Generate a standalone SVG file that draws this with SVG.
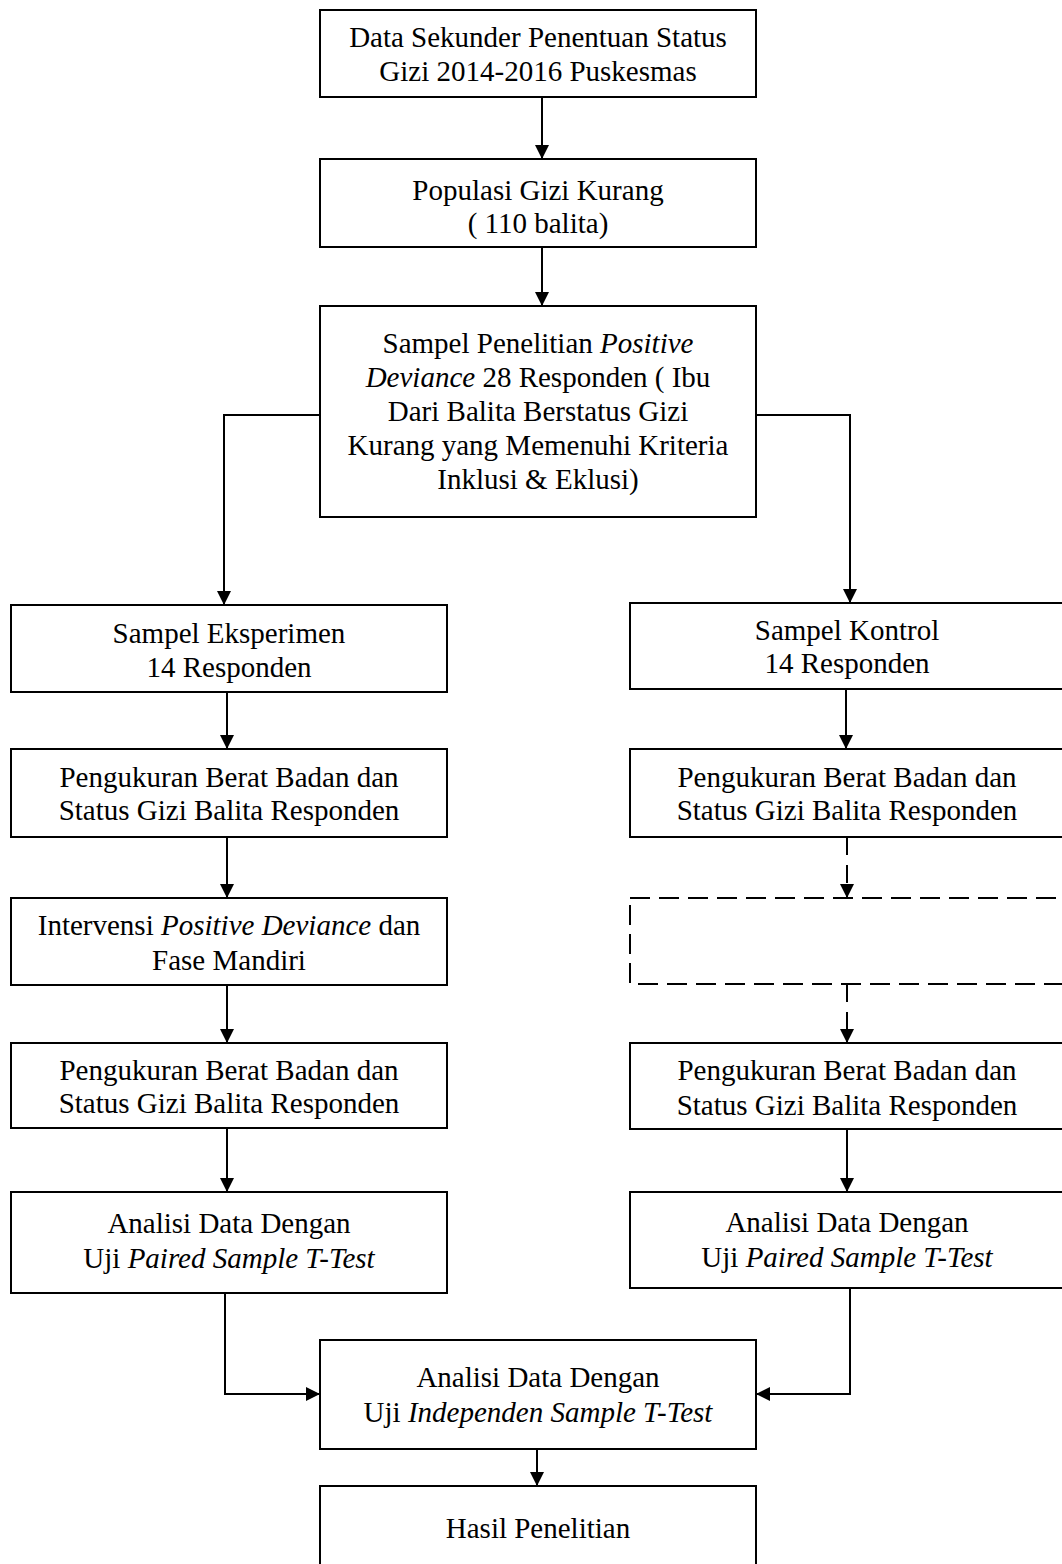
<svg xmlns="http://www.w3.org/2000/svg" width="1062" height="1564" viewBox="0 0 1062 1564">
<style>
.box{fill:#fff;stroke:#000;stroke-width:2}
.dbox{fill:#fff;stroke:#000;stroke-width:2;stroke-dasharray:20 9}
.t{font-family:"Liberation Serif","Times New Roman",serif;font-size:29px;fill:#000;text-anchor:middle}
.i{font-style:italic}
.c{fill:none;stroke:#000;stroke-width:2}
.cd{fill:none;stroke:#000;stroke-width:2;stroke-dasharray:18 10}
</style>
<defs>
<marker id="ah" viewBox="0 0 14 14" refX="14" refY="7" markerWidth="14" markerHeight="14" markerUnits="userSpaceOnUse" orient="auto">
<path d="M0,0 L14,7 L0,14 Z" fill="#000"/>
</marker>
</defs>
<rect width="1062" height="1564" fill="#fff"/>
<g id="connectors">
<path class="c" d="M542,97 V159" marker-end="url(#ah)"/>
<path class="c" d="M542,247 V306" marker-end="url(#ah)"/>
<path class="c" d="M320,415 H224 V605" marker-end="url(#ah)"/>
<path class="c" d="M756,415 H850 V603" marker-end="url(#ah)"/>
<path class="c" d="M227,692 V749" marker-end="url(#ah)"/>
<path class="c" d="M227,837 V898" marker-end="url(#ah)"/>
<path class="c" d="M227,985 V1043" marker-end="url(#ah)"/>
<path class="c" d="M227,1128 V1192" marker-end="url(#ah)"/>
<path class="c" d="M846,689 V749" marker-end="url(#ah)"/>
<path class="cd" d="M847,837 V898" marker-end="url(#ah)"/>
<path class="cd" d="M847,984 V1043" marker-end="url(#ah)"/>
<path class="c" d="M847,1129 V1192" marker-end="url(#ah)"/>
<path class="c" d="M225,1293 V1394 H320" marker-end="url(#ah)"/>
<path class="c" d="M850,1288 V1394 H756" marker-end="url(#ah)"/>
<path class="c" d="M537,1449 V1486" marker-end="url(#ah)"/>
</g>
<g id="n1"><rect class="box" x="320" y="10" width="436" height="87"/>
<text class="t" x="538" y="47">Data Sekunder Penentuan Status</text>
<text class="t" x="538" y="81">Gizi 2014-2016 Puskesmas</text></g>
<g id="n2"><rect class="box" x="320" y="159" width="436" height="88"/>
<text class="t" x="538" y="200">Populasi Gizi Kurang</text>
<text class="t" x="538" y="233">( 110 balita)</text></g>
<g id="n3"><rect class="box" x="320" y="306" width="436" height="211"/>
<text class="t" x="538" y="353">Sampel Penelitian <tspan class="i">Positive</tspan></text>
<text class="t" x="538" y="387"><tspan class="i">Deviance</tspan> 28 Responden ( Ibu</text>
<text class="t" x="538" y="421">Dari Balita Berstatus Gizi</text>
<text class="t" x="538" y="455">Kurang yang Memenuhi Kriteria</text>
<text class="t" x="538" y="489">Inklusi &amp; Eklusi)</text></g>
<g id="l1"><rect class="box" x="11" y="605" width="436" height="87"/>
<text class="t" x="229" y="643">Sampel Eksperimen</text>
<text class="t" x="229" y="677">14 Responden</text></g>
<g id="l2"><rect class="box" x="11" y="749" width="436" height="88"/>
<text class="t" x="229" y="787">Pengukuran Berat Badan dan</text>
<text class="t" x="229" y="820">Status Gizi Balita Responden</text></g>
<g id="l3"><rect class="box" x="11" y="898" width="436" height="87"/>
<text class="t" x="229" y="935">Intervensi <tspan class="i">Positive Deviance</tspan> dan</text>
<text class="t" x="229" y="970">Fase Mandiri</text></g>
<g id="l4"><rect class="box" x="11" y="1043" width="436" height="85"/>
<text class="t" x="229" y="1080">Pengukuran Berat Badan dan</text>
<text class="t" x="229" y="1113">Status Gizi Balita Responden</text></g>
<g id="l5"><rect class="box" x="11" y="1192" width="436" height="101"/>
<text class="t" x="229" y="1233">Analisi Data Dengan</text>
<text class="t" x="229" y="1268">Uji <tspan class="i">Paired Sample T-Test</tspan></text></g>
<g id="r1"><rect class="box" x="630" y="603" width="435" height="86"/>
<text class="t" x="847" y="640">Sampel Kontrol</text>
<text class="t" x="847" y="673">14 Responden</text></g>
<g id="r2"><rect class="box" x="630" y="749" width="435" height="88"/>
<text class="t" x="847" y="787">Pengukuran Berat Badan dan</text>
<text class="t" x="847" y="820">Status Gizi Balita Responden</text></g>
<g id="r3"><rect class="dbox" x="630" y="898" width="435" height="86"/></g>
<g id="r4"><rect class="box" x="630" y="1043" width="435" height="86"/>
<text class="t" x="847" y="1080">Pengukuran Berat Badan dan</text>
<text class="t" x="847" y="1115">Status Gizi Balita Responden</text></g>
<g id="r5"><rect class="box" x="630" y="1192" width="435" height="96"/>
<text class="t" x="847" y="1232">Analisi Data Dengan</text>
<text class="t" x="847" y="1267">Uji <tspan class="i">Paired Sample T-Test</tspan></text></g>
<g id="n4"><rect class="box" x="320" y="1340" width="436" height="109"/>
<text class="t" x="538" y="1387">Analisi Data Dengan</text>
<text class="t" x="538" y="1422">Uji <tspan class="i">Independen Sample T-Test</tspan></text></g>
<g id="n5"><rect class="box" x="320" y="1486" width="436" height="90"/>
<text class="t" x="538" y="1538">Hasil Penelitian</text></g>
</svg>
